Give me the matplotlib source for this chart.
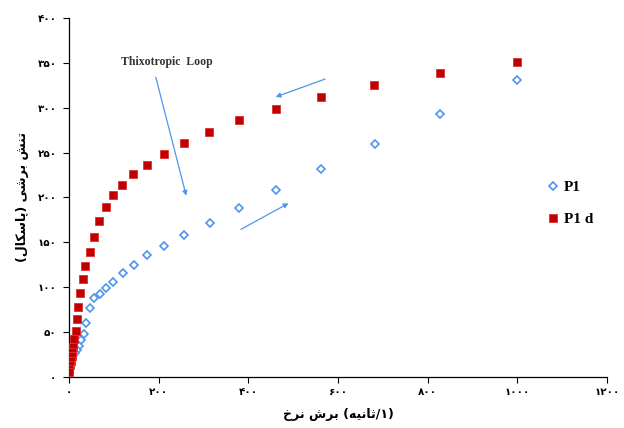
import matplotlib
matplotlib.use("Agg")
import matplotlib.pyplot as plt

# P1 (blue hollow diamonds) - shear rate (1/s), shear stress (Pa)
p1_rate = [1000, 828, 683, 562, 462, 380, 314, 257, 212, 175, 144, 120, 99, 82.5, 69, 56,
           47.5, 38, 33, 26, 21.6, 17.2, 13.4, 9.5, 7, 5, 3.5, 2.5, 1.5, 1, 0.5, 0.3]
p1_stress = [331, 293, 259.6, 232, 208.4, 188.3, 171.3, 158.2, 146.3, 135.7, 124.8, 115.5,
             105.8, 98.8, 92.5, 87.5, 76.9, 59.8, 47.6, 40.9, 34.5, 30.1, 26.4, 24, 22.5,
             21.5, 20.5, 19.5, 18.5, 17.5, 16.5, 15.5]

# P1 d (red filled squares)
p1d_rate = [1000, 828, 681, 561, 462, 380, 313, 256, 212, 175, 143, 119, 98, 81.4, 67.6,
            55, 45.7, 36, 31.2, 25, 20, 17.2, 14.9, 11.8, 8.9, 7.4, 6, 4.5, 2.2, 0.7, 0.3]
p1d_stress = [350.6, 339, 325.7, 312.5, 298.2, 286.4, 273.3, 260.4, 248.1, 236.2, 225.8,
              213.6, 202.8, 189.1, 173.5, 156.3, 139.6, 123.3, 108.9, 93.3, 77.7, 65, 51.6,
              42, 33.8, 28.2, 23.4, 18.2, 13.4, 8.6, 5]

x_ticks = [0, 200, 400, 600, 800, 1000, 1200]
y_ticks = [0, 50, 100, 150, 200, 250, 300, 350, 400]


def fa_digits(n):
    return str(n).translate(str.maketrans("0123456789", "۰۱۲۳۴۵۶۷۸۹"))


# Persian labels written in visual order with presentation forms
# (matplotlib has no Arabic shaping)
x_label = ("\uFEA5\uFEAE\uFEE7" + " " + "\uFEB5\uFEAE\uFE91" + " (" +
           "\uFEEA\uFBFF\uFEE7\uFE8E\uFE9B" + "/۱)")
y_label = ("(" + "\uFEDD\uFE8E\uFB91\uFEB3\uFE8E\uFB58" + ") " +
           "\uFBFD\uFEB7\uFEAE\uFE91" + " " + "\uFEB6\uFEE8\uFE97")

blue = "#4F94EE"
red = "#C00000"

fig = plt.figure(figsize=(6.24, 4.28), dpi=100)
ax = fig.add_axes([0.1106, 0.1192, 0.8622, 0.8388])

ax.plot(p1_rate, p1_stress, linestyle="none", marker="D", markersize=4.2,
        markerfacecolor="white", markeredgecolor=blue, markeredgewidth=1.2,
        label="P1", zorder=3)
ax.plot(p1d_rate, p1d_stress, linestyle="none", marker="s", markersize=5.2,
        markerfacecolor=red, markeredgecolor="#E03030", markeredgewidth=0.6,
        label="P1 d", zorder=4)

ax.set_xlim(0, 1200)
ax.set_ylim(0, 400)
ax.set_xticks(x_ticks)
ax.set_yticks(y_ticks)
ax.set_xticklabels([fa_digits(v) for v in x_ticks], fontweight="bold", fontsize=7.5)
ax.set_yticklabels([fa_digits(v) for v in y_ticks], fontweight="bold", fontsize=7.5)
ax.tick_params(direction="out", length=4, width=0.8, colors="black")
ax.tick_params(axis="x", pad=3)
ax.tick_params(axis="y", pad=5)
ax.spines["top"].set_visible(False)
ax.spines["right"].set_visible(False)
ax.spines["left"].set_linewidth(0.9)
ax.spines["bottom"].set_linewidth(0.9)

ax.set_xlabel(x_label, fontweight="bold", fontsize=9, family="DejaVu Sans", labelpad=8)
ax.set_ylabel(y_label, fontweight="bold", fontsize=9, family="DejaVu Sans", labelpad=6)

# annotations
ax.text(218, 351, "Thixotropic  Loop", family="Liberation Serif", fontweight="bold",
        fontsize=8.5, color="#333333", ha="center", va="center")
arrow = dict(arrowstyle="-|>", color=blue, lw=0.9, mutation_scale=7)
ax.annotate("", xy=(263, 199), xytext=(192, 337), arrowprops=arrow)
ax.annotate("", xy=(455, 311), xytext=(577, 333), arrowprops=arrow)
ax.annotate("", xy=(495, 195), xytext=(378, 163), arrowprops=arrow)

leg = ax.legend(loc="upper left", bbox_to_anchor=(0.866, 0.585), frameon=False,
                prop={"family": "Liberation Serif", "weight": "bold", "size": 11},
                handlelength=0.6, handletextpad=0.4, labelspacing=1.2)

plt.savefig("out.png", dpi=100)
